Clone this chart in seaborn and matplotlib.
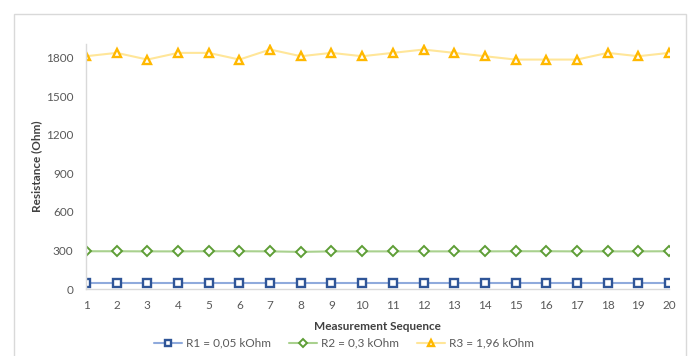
import matplotlib
matplotlib.use("Agg")
import matplotlib.pyplot as plt
import seaborn as sns
import pandas as pd
from matplotlib.patches import Rectangle

# Measurement data
sequence = list(range(1, 21))
r1_values = [46] * 20
r2_values = [294, 294, 293, 293, 294, 294, 293, 289, 293, 293,
             293, 293, 293, 293, 294, 294, 293, 293, 293, 294]
r3_values = [1810, 1836, 1784, 1836, 1836, 1784, 1862, 1810, 1836, 1810,
             1836, 1862, 1836, 1810, 1784, 1784, 1784, 1836, 1810, 1836]
series_names = ["R1 = 0,05 kOhm", "R2 = 0,3 kOhm", "R3 = 1,96 kOhm"]
y_ticks = [0, 300, 600, 900, 1200, 1500, 1800]

sns.set_theme(style="white")
plt.rcParams["font.family"] = ["Lato", "DejaVu Sans"]

fig = plt.figure(figsize=(6.88, 3.56), dpi=100)
ax = fig.add_axes([0.125, 0.188, 0.8474, 0.6884])

# chart frame
fig.patches.append(Rectangle((0.0203, -0.2), 0.9767, 1.1607, transform=fig.transFigure,
                             fill=False, edgecolor="#D9D9D9", linewidth=1.0, zorder=0))

styles = [
    dict(line="#8FAADC", edge="#2F5597", marker="s", ms=5.2, mew=1.7),
    dict(line="#A9D18E", edge="#5E9E36", marker="D", ms=4.6, mew=1.4),
    dict(line="#FFE699", edge="#FFB800", marker="^", ms=5.8, mew=1.7),
]
all_values = [r1_values, r2_values, r3_values]

handles = []
for name, vals, st in zip(series_names, all_values, styles):
    df = pd.DataFrame({"Measurement Sequence": sequence, "Resistance": vals})
    sns.lineplot(data=df, x="Measurement Sequence", y="Resistance", ax=ax,
                 color=st["line"], linewidth=1.5, marker=st["marker"],
                 markersize=st["ms"], markerfacecolor="white",
                 markeredgecolor=st["edge"], markeredgewidth=st["mew"],
                 label=name, legend=False)
    handles.append(ax.lines[-1])

ax.set_xlim(1, 20)
ax.set_ylim(0, 1905)
ax.set_xticks(sequence)
ax.set_yticks(y_ticks)
ax.tick_params(axis="both", length=0, labelsize=8.5, colors="#595959", pad=8)
ax.tick_params(axis="y", pad=9)
for s in ["top", "right"]:
    ax.spines[s].set_visible(False)
for s in ["left", "bottom"]:
    ax.spines[s].set_color("#D9D9D9")
    ax.spines[s].set_linewidth(1.0)

ax.set_xlabel("Measurement Sequence", fontsize=8.5, fontweight="bold",
              color="#404040", labelpad=7)
ax.set_ylabel("Resistance (Ohm)", fontsize=8.5, fontweight="bold",
              color="#404040", labelpad=3)

leg = fig.legend(handles, series_names, loc="center", bbox_to_anchor=(0.5, 0.036),
                 ncol=3, frameon=False, fontsize=8.5, handlelength=2.4,
                 columnspacing=1.5, handletextpad=0.35, markerscale=0.8)
for t in leg.get_texts():
    t.set_color("#595959")

fig.savefig("out.png", dpi=100, facecolor="white")
